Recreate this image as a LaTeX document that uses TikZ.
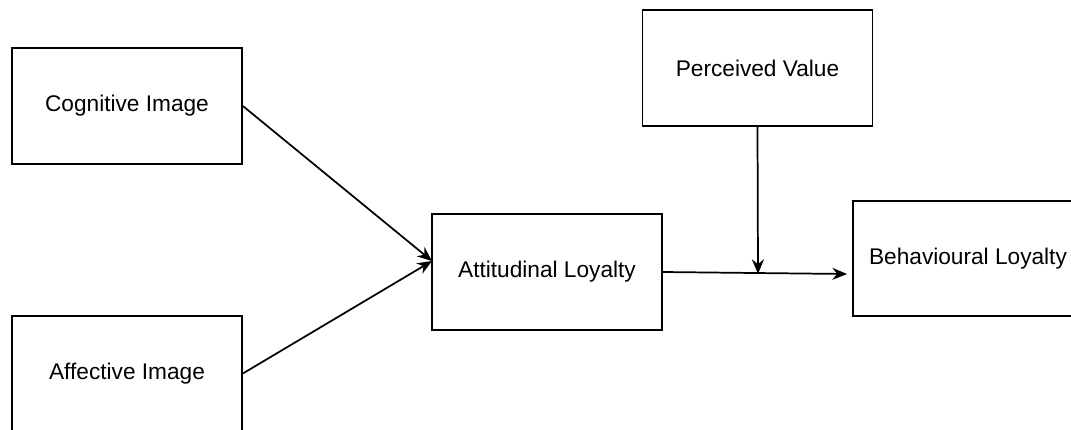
\documentclass[tikz,border=0pt]{standalone}
\usepackage{fontspec}
\setmainfont{Liberation Sans}
\usetikzlibrary{arrows.meta,positioning,calc}

\begin{document}
\begin{tikzpicture}[
  x=0.75pt, y=-0.75pt,
  font=\fontsize{17}{20}\selectfont,
  box/.style={draw, line width=1.3pt, align=center, inner sep=2pt,
              minimum width=172.5pt, minimum height=86.5pt},
  e/.style={-{Stealth[length=11pt,width=9pt]}, line width=1.3pt}]

% pixel grid of the reference: 1071 x 429, y downwards
\useasboundingbox (0,0) rectangle (1071,429);

\node[box] (cog) at (127,106)   {Cognitive Image};
\node[box] (aff) at (127,373.5) {Affective Image};
\node[box] (att) at (547,272)   {Attitudinal Loyalty};
\node[box, minimum height=87pt] (pv) at (757.5,68) {Perceived Value};
\node[box] (beh) at (968,258.5) {Behavioural Loyalty};

% end points of the connectors
\coordinate (attin) at (432,261);
\coordinate (behin) at (847,274);
\coordinate (mod)   at (758,274);

\draw[e] (cog.east) -- (attin);
\draw[e] (aff.east) -- (attin);
\draw[e] (att.east) -- (behin);
\draw[e] (pv.south) -- (mod);

\end{tikzpicture}
\end{document}
